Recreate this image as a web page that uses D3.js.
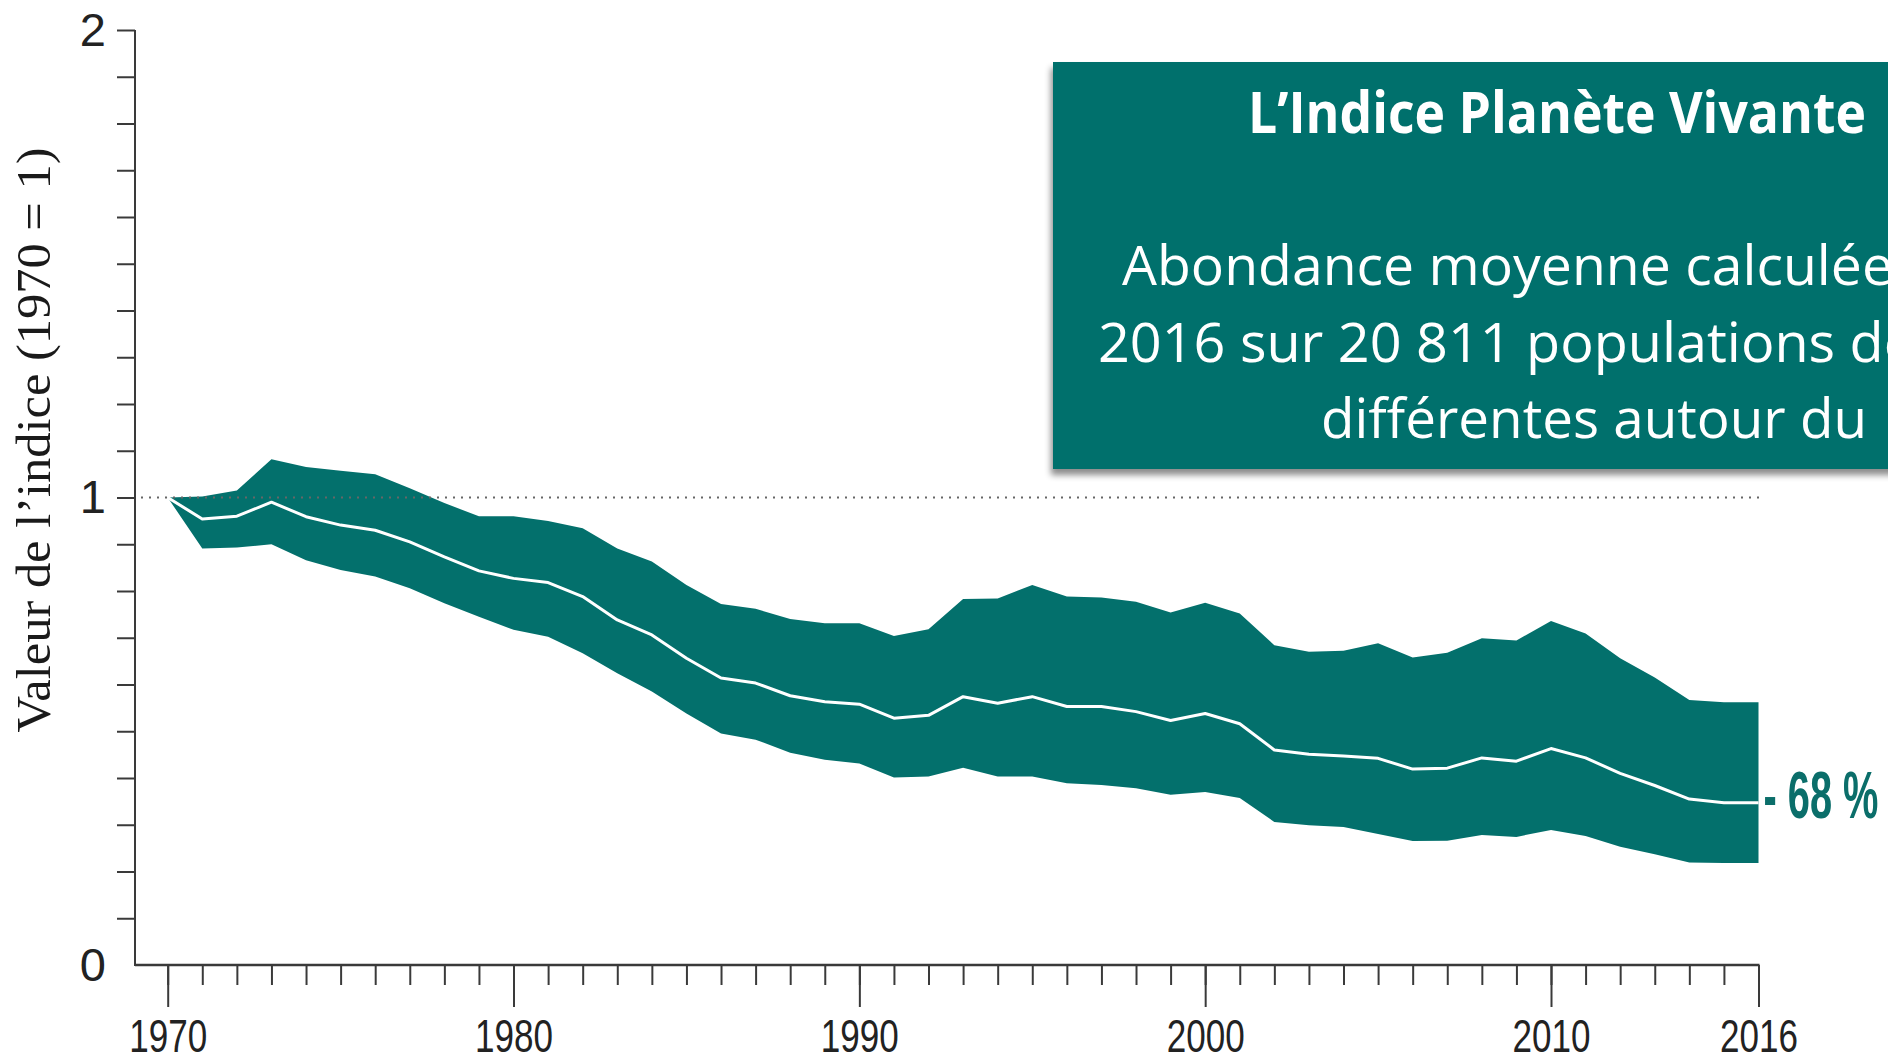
<!DOCTYPE html>
<html>
<head>
<meta charset="utf-8">
<script src="https://cdn.jsdelivr.net/npm/d3@7"></script>
<style>
	body { margin: 0; background: #fff; overflow: hidden; }
	#lpi-chart svg { display: block; }
	.axis line, .axis path { stroke: #3a3a3a; stroke-width: 2; }
	.axis text { font-family: "Liberation Sans Narrow", "Liberation Sans", Arial, sans-serif; fill: #222; }
</style>
</head>
<body>
<div id="lpi-chart"></div>
<script>
// years of the index
var years = [ 1970, 1971, 1972, 1973, 1974, 1975, 1976, 1977, 1978, 1979,
	1980, 1981, 1982, 1983, 1984, 1985, 1986, 1987, 1988, 1989,
	1990, 1991, 1992, 1993, 1994, 1995, 1996, 1997, 1998, 1999,
	2000, 2001, 2002, 2003, 2004, 2005, 2006, 2007, 2008, 2009,
	2010, 2011, 2012, 2013, 2014, 2015, 2016 ];

// index value (1970 = 1)
var meanVals = [ 1.000, 0.954, 0.960, 0.990, 0.959, 0.941, 0.930, 0.905, 0.873, 0.843,
	0.827, 0.818, 0.788, 0.738, 0.706, 0.656, 0.614, 0.603, 0.576, 0.563,
	0.558, 0.528, 0.534, 0.574, 0.560, 0.574, 0.553, 0.553, 0.542, 0.523,
	0.538, 0.516, 0.460, 0.451, 0.447, 0.442, 0.419, 0.421, 0.443, 0.436,
	0.463, 0.443, 0.410, 0.384, 0.355, 0.347, 0.347 ];

// confidence limits
var upperVals = [ 1.000, 1.002, 1.015, 1.082, 1.065, 1.057, 1.050, 1.020, 0.988, 0.960,
	0.960, 0.950, 0.934, 0.891, 0.863, 0.813, 0.772, 0.762, 0.740, 0.731,
	0.731, 0.704, 0.718, 0.783, 0.784, 0.813, 0.788, 0.786, 0.777, 0.754,
	0.775, 0.752, 0.684, 0.670, 0.672, 0.688, 0.658, 0.668, 0.699, 0.694,
	0.736, 0.709, 0.656, 0.615, 0.567, 0.562, 0.562 ];
var lowerVals = [ 1.000, 0.891, 0.893, 0.900, 0.866, 0.845, 0.831, 0.806, 0.774, 0.745,
	0.717, 0.702, 0.667, 0.624, 0.585, 0.538, 0.495, 0.482, 0.454, 0.439,
	0.431, 0.401, 0.403, 0.422, 0.403, 0.403, 0.389, 0.385, 0.378, 0.364,
	0.370, 0.357, 0.306, 0.299, 0.295, 0.280, 0.265, 0.266, 0.278, 0.274,
	0.289, 0.276, 0.253, 0.237, 0.219, 0.218, 0.218 ];

// axis labels
var majorYears = [ 1970, 1980, 1990, 2000, 2010, 2016 ];
var yLabels = [ 0, 1, 2 ];

// texts
var yTitle = "Valeur de l’indice (1970 = 1)";
var boxTitle = "L’Indice Planète Vivante";
var boxLines = [ "Abondance moyenne calculée", "2016 sur 20 811 populations de", "différentes autour du" ];
var changeLabel = "- 68 %";

var teal = "#03706c";

// build rows for the area + line
var rows = [];
for ( var i = 0; i < years.length; i++ ) {
	rows.push( { year: years[ i ], mean: meanVals[ i ], upper: upperVals[ i ], lower: lowerVals[ i ] } );
}

var width = 1888,
	height = 1063;

var svg = d3.select( "#lpi-chart" ).append( "svg" )
	.attr( "width", width )
	.attr( "height", height );

// drop shadow for the text box
var defs = svg.append( "defs" );
defs.append( "filter" )
	.attr( "id", "box-shadow" )
	.attr( "x", "-5%" ).attr( "y", "-5%" )
	.attr( "width", "120%" ).attr( "height", "130%" )
	.append( "feDropShadow" )
	.attr( "dx", -2 ).attr( "dy", 6 )
	.attr( "stdDeviation", 3 )
	.attr( "flood-color", "#000" )
	.attr( "flood-opacity", 0.45 );

// scales
var x = d3.scaleLinear().domain( [ 1970, 2016 ] ).range( [ 167.7, 1758.5 ] ),
	y = d3.scaleLinear().domain( [ 0, 2 ] ).range( [ 965, 30 ] ),
	axisX = 135;

// band between the limits
var band = d3.area()
	.x( function ( d ) { return x( d.year ); } )
	.y0( function ( d ) { return y( d.lower ); } )
	.y1( function ( d ) { return y( d.upper ); } );

var meanLine = d3.line()
	.x( function ( d ) { return x( d.year ); } )
	.y( function ( d ) { return y( d.mean ); } );

svg.append( "path" )
	.datum( rows )
	.attr( "fill", teal )
	.attr( "d", band );

// reference line at 1
svg.append( "line" )
	.attr( "x1", axisX + 6 ).attr( "x2", x( 2016 ) + 2 )
	.attr( "y1", y( 1 ) ).attr( "y2", y( 1 ) )
	.attr( "stroke", "#666" )
	.attr( "stroke-width", 2 )
	.attr( "stroke-dasharray", "2,6" );

svg.append( "path" )
	.datum( rows )
	.attr( "fill", "none" )
	.attr( "stroke", "#fff" )
	.attr( "stroke-width", 3 )
	.attr( "stroke-linejoin", "round" )
	.attr( "d", meanLine );

// Y AXIS
var yAxis = d3.axisLeft( y )
	.tickValues( d3.range( 0, 21 ).map( function ( v ) { return v / 10; } ) )
	.tickSize( 18 )
	.tickSizeOuter( 0 )
	.tickPadding( 11 )
	.tickFormat( function ( v ) {
		return yLabels.indexOf( Math.round( v * 10 ) / 10 ) > -1 && Math.abs( v - Math.round( v ) ) < 0.001 ? Math.round( v ) : "";
	} );

var gy = svg.append( "g" )
	.attr( "class", "axis" )
	.attr( "transform", "translate(" + axisX + ",0)" )
	.call( yAxis );
gy.select( ".domain" ).remove();
gy.selectAll( ".tick" ).filter( function ( d ) { return d === 0; } ).select( "line" ).remove();
gy.selectAll( "text" ).attr( "font-size", 47 );

svg.append( "line" )
	.attr( "class", "axis-line" )
	.attr( "x1", axisX ).attr( "x2", axisX )
	.attr( "y1", y( 2 ) ).attr( "y2", y( 0 ) + 1 )
	.attr( "stroke", "#3a3a3a" ).attr( "stroke-width", 2 );

// X AXIS
var xMinor = d3.axisBottom( x )
	.tickValues( years )
	.tickSize( 20 )
	.tickSizeOuter( 0 )
	.tickFormat( "" );

var gxMinor = svg.append( "g" )
	.attr( "class", "axis" )
	.attr( "transform", "translate(0," + y( 0 ) + ")" )
	.call( xMinor );
gxMinor.select( ".domain" ).remove();

var xMajor = d3.axisBottom( x )
	.tickValues( majorYears )
	.tickSize( 42 )
	.tickSizeOuter( 0 )
	.tickFormat( d3.format( "d" ) );

var gxMajor = svg.append( "g" )
	.attr( "class", "axis" )
	.attr( "transform", "translate(0," + y( 0 ) + ")" )
	.call( xMajor );
gxMajor.select( ".domain" ).remove();
gxMajor.selectAll( "text" )
	.attr( "y", 87 )
	.attr( "dy", 0 )
	.attr( "font-size", 46 )
	.attr( "textLength", 78 )
	.attr( "lengthAdjust", "spacingAndGlyphs" );

svg.append( "line" )
	.attr( "x1", axisX ).attr( "x2", x( 2016 ) + 1 )
	.attr( "y1", y( 0 ) ).attr( "y2", y( 0 ) )
	.attr( "stroke", "#3a3a3a" ).attr( "stroke-width", 2.5 );

// y axis title
svg.append( "text" )
	.attr( "transform", "translate(50," + 440 + ") rotate(-90)" )
	.attr( "text-anchor", "middle" )
	.attr( "font-family", "'Liberation Serif', 'DejaVu Serif', serif" )
	.attr( "font-size", 48 )
	.attr( "fill", "#1a1a1a" )
	.attr( "textLength", 585 )
	.attr( "lengthAdjust", "spacingAndGlyphs" )
	.text( yTitle );

// - 68 % label
svg.append( "text" )
	.attr( "x", x( 2016 ) + 5 )
	.attr( "y", 818 )
	.attr( "font-family", "'Liberation Sans Narrow', 'Liberation Sans', sans-serif" )
	.attr( "font-weight", "bold" )
	.attr( "font-size", 66 )
	.attr( "fill", "#0b6e6a" )
	.attr( "textLength", 115 )
	.attr( "lengthAdjust", "spacingAndGlyphs" )
	.text( changeLabel );

// TEXT BOX
var box = svg.append( "g" );
box.append( "rect" )
	.attr( "x", 1053 ).attr( "y", 62 )
	.attr( "width", 900 ).attr( "height", 407 )
	.attr( "fill", teal )
	.attr( "filter", "url(#box-shadow)" );

box.append( "text" )
	.attr( "x", 1248 ).attr( "y", 133 )
	.attr( "font-family", "'Open Sans', 'Noto Sans', sans-serif" )
	.attr( "font-weight", "bold" )
	.attr( "font-size", 57 )
	.attr( "fill", "#fff" )
	.attr( "textLength", 618 )
	.attr( "lengthAdjust", "spacingAndGlyphs" )
	.text( boxTitle );

var lineX = [ 1122, 1098, 1321 ],
	lineY = [ 285, 362, 438 ],
	lineW = [ 771, 817, 546 ];

box.selectAll( ".box-line" )
	.data( boxLines )
	.enter()
	.append( "text" )
	.attr( "class", "box-line" )
	.attr( "x", function ( d, i ) { return lineX[ i ]; } )
	.attr( "y", function ( d, i ) { return lineY[ i ]; } )
	.attr( "font-family", "'Open Sans', 'Noto Sans', sans-serif" )
	.attr( "font-size", 54 )
	.attr( "fill", "#fff" )
	.attr( "textLength", function ( d, i ) { return lineW[ i ]; } )
	.attr( "lengthAdjust", "spacingAndGlyphs" )
	.text( function ( d ) { return d; } );
</script>
</body>
</html>
